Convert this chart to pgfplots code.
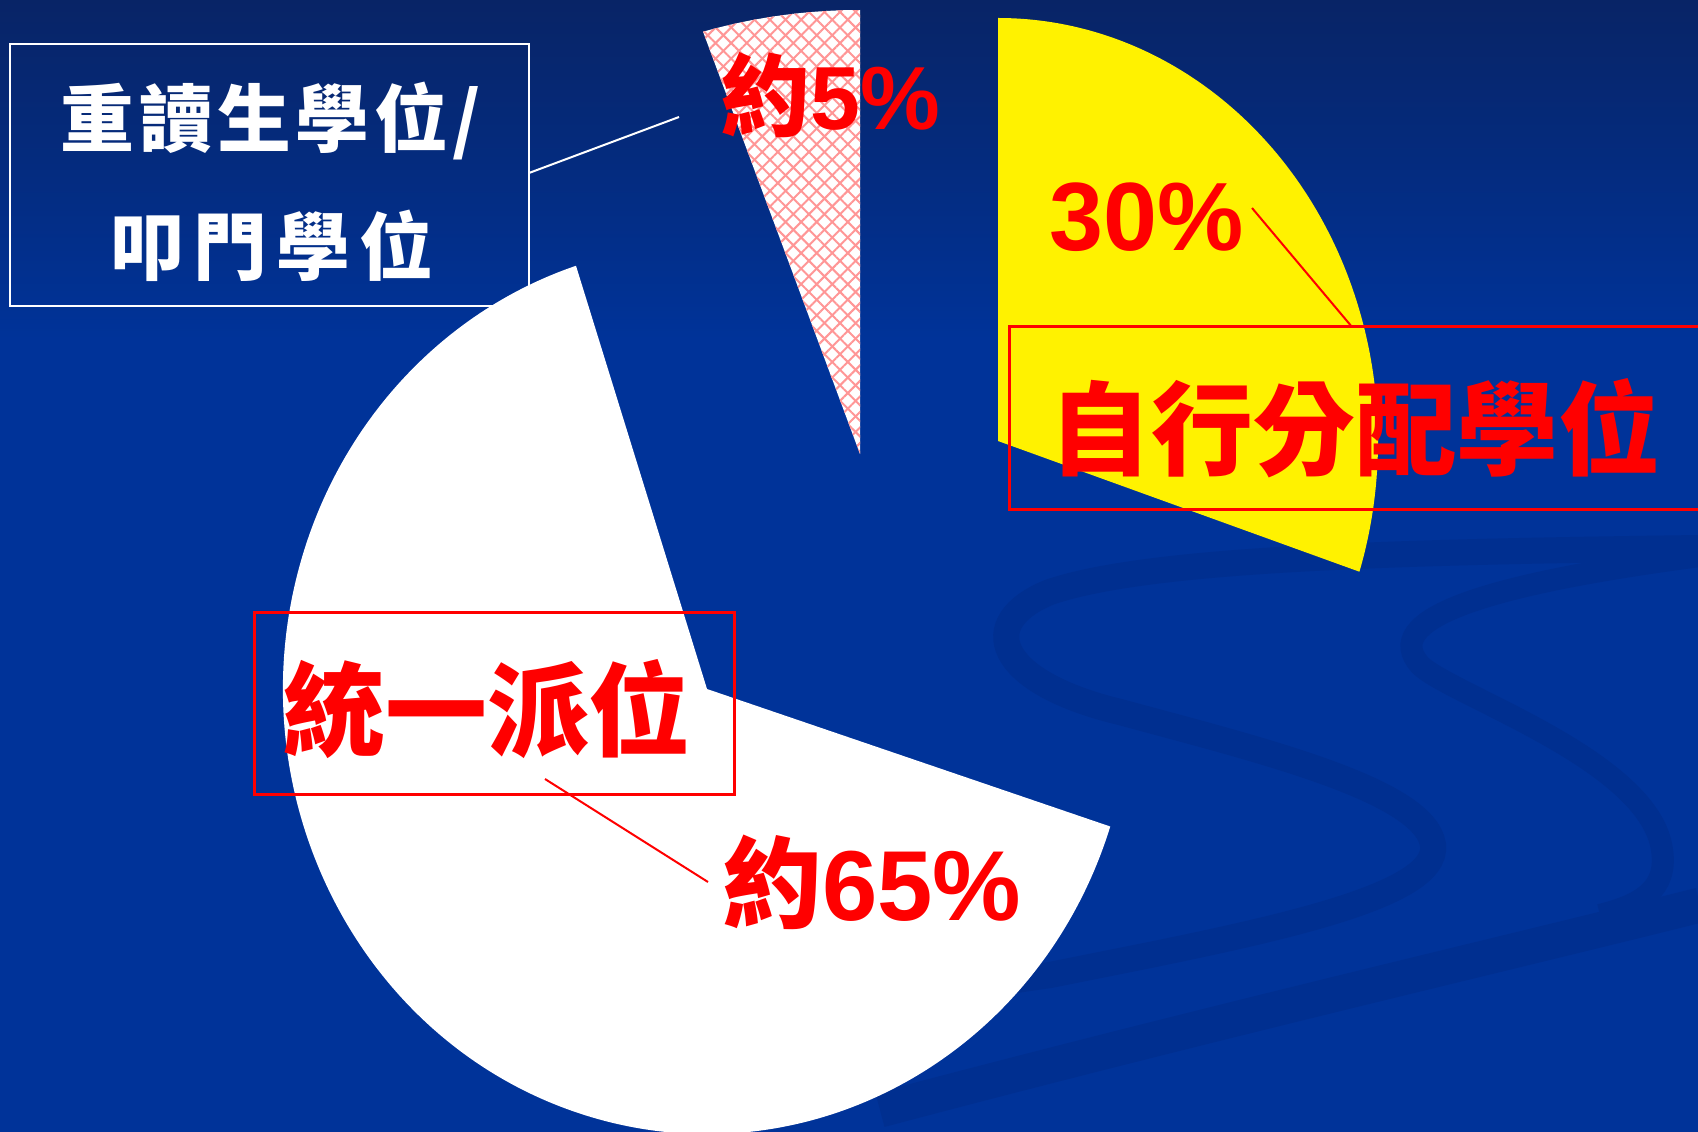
\documentclass[border=0pt]{standalone}
\usepackage{pgfplots}
\pgfplotsset{compat=1.18}
\usepackage{pgfplotstable}
\usepackage{fontspec}
\setmainfont{Liberation Sans}
\newfontfamily\cjk{Noto Sans CJK TC}
\usetikzlibrary{patterns.meta}

\definecolor{bgblue}{RGB}{0,51,153}
\definecolor{bgtop}{RGB}{8,36,102}
\definecolor{swirl}{RGB}{0,47,144}
\definecolor{hatch}{RGB}{255,150,150}
\definecolor{labred}{RGB}{255,0,0}

% share of each slice (per cent), clockwise from 12 o'clock
\pgfplotstableread{
slice  value
yellow 30
white  65
pink   5
}\piedata

% one wedge: style, centre x, centre y (pixels), x radius, y radius, start, end angle
\newcommand\pieslice[7]{%
  \path[#1] (axis cs:#2,#3) -- ++(#6:#4 and #5)
    arc[start angle=#6, end angle=#7, x radius=#4, y radius=#5] -- cycle;}
\newcommand\gap{\kern1.3pt}

\begin{document}
\begin{tikzpicture}
\pgfplotstablegetelem{0}{value}\of\piedata \let\valY\pgfplotsretval
\pgfplotstablegetelem{1}{value}\of\piedata \let\valW\pgfplotsretval
\pgfplotstablegetelem{2}{value}\of\piedata \let\valP\pgfplotsretval
\pgfmathsetmacro\aA{90}
\pgfmathsetmacro\aB{\aA-3.6*\valY}
\pgfmathsetmacro\aC{\aB-3.6*\valW}
\pgfmathsetmacro\aD{\aC-3.6*\valP}
\begin{axis}[
    width=169.8mm, height=113.2mm, scale only axis,
    xmin=0, xmax=1698, ymin=0, ymax=1132, y dir=reverse,
    axis line style={draw=none}, ticks=none,
]
% background
\shade[top color=bgtop, bottom color=bgblue] (axis cs:0,0) rectangle (axis cs:1698,340);
\fill[bgblue] (axis cs:0,339) rectangle (axis cs:1698,1132);
% faint swirls
\draw[swirl, line width=2.6mm] (axis cs:1700,548) .. controls (axis cs:1400,552) and (axis cs:1150,558) .. (axis cs:1050,592)
   .. controls (axis cs:975,622) and (axis cs:995,682) .. (axis cs:1120,712)
   .. controls (axis cs:1260,750) and (axis cs:1425,790) .. (axis cs:1433,845)
   .. controls (axis cs:1440,900) and (axis cs:1250,935) .. (axis cs:1050,975)
   -- (axis cs:880,1000);
\draw[swirl, line width=2.2mm] (axis cs:1700,556) .. controls (axis cs:1480,585) and (axis cs:1380,620) .. (axis cs:1420,665)
   .. controls (axis cs:1450,695) and (axis cs:1650,760) .. (axis cs:1662,850)
   .. controls (axis cs:1668,890) and (axis cs:1640,905) .. (axis cs:1600,915);
\draw[swirl, line width=3.5mm] (axis cs:1700,905) .. controls (axis cs:1500,955) and (axis cs:1200,1025) .. (axis cs:880,1110);
% slices
\pieslice{fill=yellow}{998}{441}{38.0mm}{42.3mm}{\aA}{\aB}
\pieslice{fill=white}{707}{689}{42.4mm}{44.5mm}{\aB}{\aC}
\pieslice{preaction={fill=white}, pattern={Lines[angle=45,distance=1.1mm,line width=0.2mm]}, pattern color=hatch}{860}{454}{50.8mm}{44.4mm}{\aC}{\aD}
\pieslice{pattern={Lines[angle=-45,distance=1.1mm,line width=0.2mm]}, pattern color=hatch}{860}{454}{50.8mm}{44.4mm}{\aC}{\aD}
% white box, top left
\draw[white, line width=0.25mm] (axis cs:10,44) rectangle (axis cs:529,306);
\node[white, inner sep=0pt, anchor=center] at (axis cs:271,121) {\cjk\bfseries\fontsize{21pt}{25pt}\selectfont 重\gap 讀\gap 生\gap 學\gap 位\gap /};
\node[white, inner sep=0pt, anchor=center] at (axis cs:272,246) {\cjk\bfseries\fontsize{21pt}{25pt}\selectfont 叩\gap\gap 門\gap\gap 學\gap\gap 位};
\draw[white, line width=0.2mm] (axis cs:529,173) -- (axis cs:679,117);
% labels
\node[labred, inner sep=0pt, anchor=base west] at (axis cs:720,130) {\fontsize{25.5pt}{30pt}\selectfont\cjk\bfseries 約\rmfamily\bfseries 5\%};
\node[labred, inner sep=0pt, anchor=base west] at (axis cs:1049,251) {\fontsize{27.6pt}{32pt}\selectfont\bfseries 30\%};
\node[labred, inner sep=0pt, anchor=base west] at (axis cs:722,920) {\fontsize{28.3pt}{34pt}\selectfont\cjk\bfseries 約\rmfamily\bfseries 65\%};
\draw[labred, line width=0.2mm] (axis cs:1252,208) -- (axis cs:1352,327);
\draw[labred, line width=0.3mm] (axis cs:1720,327) -- (axis cs:1009,327) -- (axis cs:1009,509) -- (axis cs:1720,509);
\node[labred, inner sep=0pt, anchor=center] at (axis cs:1355,428) {\cjk\bfseries\fontsize{29pt}{34pt}\selectfont 自行分配學位};
\draw[labred, line width=0.3mm] (axis cs:254,612) rectangle (axis cs:734,794);
\node[labred, inner sep=0pt, anchor=center] at (axis cs:487,709) {\cjk\bfseries\fontsize{29pt}{34pt}\selectfont 統一派位};
\draw[labred, line width=0.2mm] (axis cs:545,779) -- (axis cs:708,882);
\end{axis}
\pgfresetboundingbox
\useasboundingbox (current axis.south west) rectangle (current axis.north east);
\end{tikzpicture}
\end{document}
